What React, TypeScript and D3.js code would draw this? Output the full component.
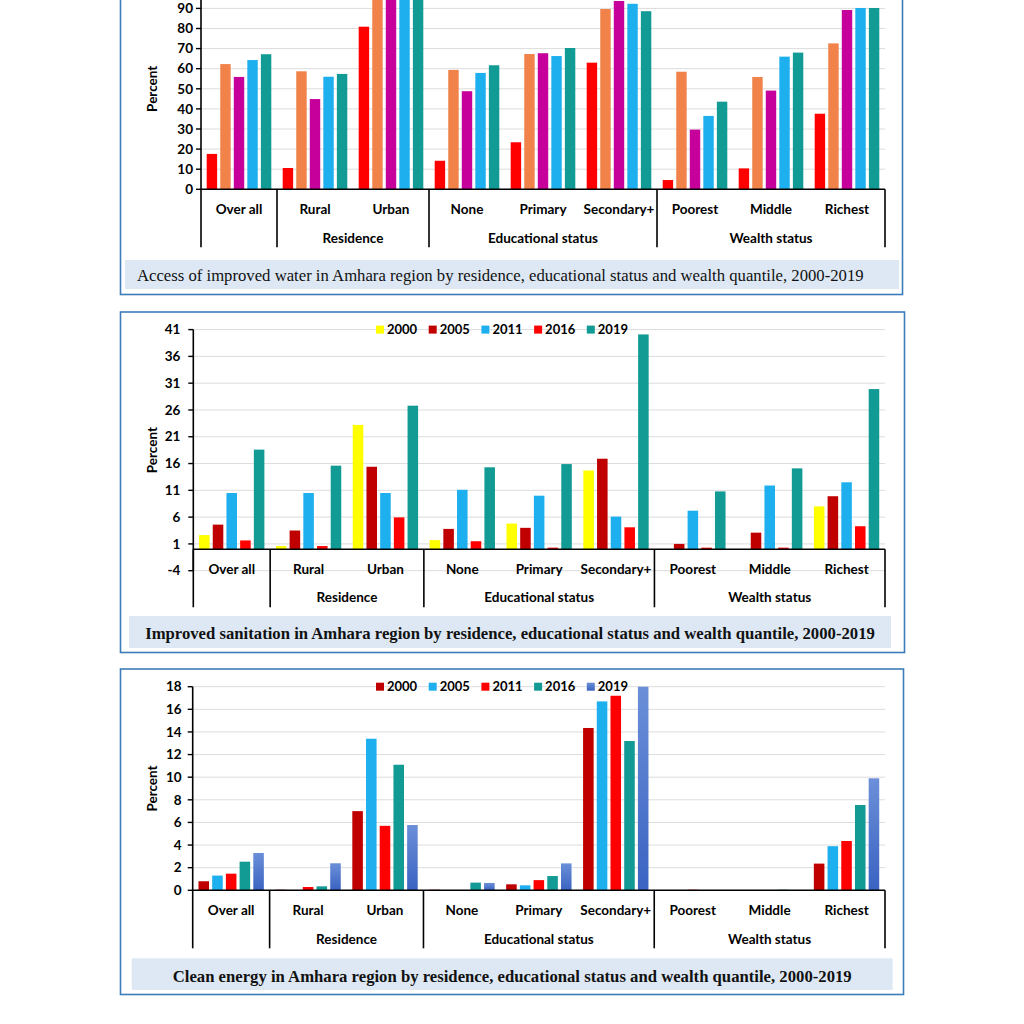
import React from "react";
import * as d3 from "d3";

// ---------- DATA ----------
const categories = ["Over all", "Rural", "Urban", "None", "Primary", "Secondary+", "Poorest", "Middle", "Richest"];
const groupLabels = ["", "Residence", "Educational status", "Wealth status"];
const groupSizes = [1, 2, 3, 3];
const years = ["2000", "2005", "2011", "2016", "2019"];

const water2000 = [17.6, 10.6, 80.9, 14.2, 23.4, 63.0, 4.6, 10.4, 37.6];
const water2005 = [62.3, 58.7, 97.5, 59.4, 67.3, 89.7, 58.5, 55.9, 72.6];
const water2011 = [55.9, 44.9, 98.0, 48.8, 67.7, 93.7, 29.7, 49.1, 89.2];
const water2016 = [64.3, 56.0, 98.5, 57.9, 66.3, 92.3, 36.5, 66.0, 90.2];
const water2019 = [67.2, 57.4, 99.0, 61.7, 70.3, 88.6, 43.6, 68.0, 90.2];
const waterTicks = [0, 10, 20, 30, 40, 50, 60, 70, 80, 90, 100];

const sanitation2000 = [2.65, 0.6, 23.2, 1.7, 4.8, 14.7, 0, 0, 8.0];
const sanitation2005 = [4.6, 3.5, 15.4, 3.8, 4.0, 16.9, 1.0, 3.1, 9.9];
const sanitation2011 = [10.5, 10.5, 10.5, 11.1, 10.0, 6.1, 7.2, 11.9, 12.5];
const sanitation2016 = [1.65, 0.6, 5.95, 1.5, 0.3, 4.1, 0.3, 0.3, 4.3];
const sanitation2019 = [18.6, 15.6, 26.8, 15.3, 15.9, 40.1, 10.8, 15.1, 29.9];
const sanitationTicks = [-4, 1, 6, 11, 16, 21, 26, 31, 36, 41];

const energy2000 = [0.8, 0.05, 7.0, 0.05, 0.53, 14.35, 0, 0, 2.36];
const energy2005 = [1.3, 0, 13.4, 0, 0.44, 16.7, 0, 0, 3.9];
const energy2011 = [1.47, 0.29, 5.7, 0, 0.9, 17.2, 0.05, 0, 4.36];
const energy2016 = [2.53, 0.35, 11.1, 0.68, 1.26, 13.2, 0, 0.05, 7.54];
const energy2019 = [3.3, 2.39, 5.77, 0.65, 2.38, 18.0, 0, 0, 9.9];
const energyTicks = [0, 2, 4, 6, 8, 10, 12, 14, 16, 18];

const waterCaption = "Access of improved water in Amhara region by residence, educational status and wealth quantile, 2000-2019";
const sanitationCaption = "Improved sanitation in Amhara region by residence, educational status and wealth quantile, 2000-2019";
const energyCaption = "Clean energy in Amhara region by residence, educational status and wealth quantile, 2000-2019";

const waterColors = ["#ff0000", "#f0824a", "#c5009b", "#1eb0ee", "#129a94"];
const sanitationColors = ["#ffff00", "#c00000", "#1eb0ee", "#ff0000", "#129a94"];
const energyColors = ["#c00000", "#1eb0ee", "#ff0000", "#129a94", "url(#blueGrad)"];

// ---------- COMPONENT ----------
const SANS = "Lato, 'Open Sans', sans-serif";
const SERIF = "'Liberation Serif', 'Times New Roman', serif";
const FS = 13.5;

type PanelProps = {
  frame: { x0: number; x1: number; y0: number; y1: number };
  axisX: number;
  plotRight: number;
  yRange: [number, number];
  domain: [number, number];
  ticks: number[];
  tickGap: number;
  series: number[][];
  colors: string[];
  showLegend: boolean;
  caption: string;
  captionBox: { x0: number; x1: number; y0: number; y1: number };
  captionBold: boolean;
  captionX?: number;
  captionY: number;
};

function Panel(p: PanelProps) {
  const y = d3.scaleLinear().domain(p.domain).range(p.yRange);
  const x = d3.scaleBand<string>().domain(categories).range([p.axisX, p.plotRight]).paddingInner(0.15).paddingOuter(0.075);
  const inner = d3.scaleBand<string>().domain(years).range([0, x.bandwidth()]).paddingInner(0.23);
  const y0 = y(0);
  const step = x.step();
  const boundaries: number[] = [0];
  groupSizes.forEach((s) => boundaries.push(boundaries[boundaries.length - 1] + s));
  const topY = y(p.domain[1]);
  const legendStart = 376;
  const legendStep = 52.7;
  return (
    <g>
      <rect x={p.frame.x0} y={p.frame.y0} width={p.frame.x1 - p.frame.x0} height={p.frame.y1 - p.frame.y0} fill="#fff" stroke="#3d7cb8" strokeWidth={1.6} />
      {/* gridlines */}
      {p.ticks.map((t) => (
        <line key={"g" + t} x1={p.axisX} x2={p.plotRight} y1={y(t)} y2={y(t)} stroke="#dcdcdc" strokeWidth={1} />
      ))}
      {/* bars */}
      {p.series.map((vals, si) =>
        vals.map((v, ci) => {
          const bx = (x(categories[ci]) as number) + (inner(years[si]) as number);
          const top = y(Math.max(v, 0));
          return <rect key={"b" + si + "-" + ci} x={bx} y={top} width={inner.bandwidth()} height={Math.max(0, y0 - top)} fill={p.colors[si]} />;
        })
      )}
      {/* y axis */}
      <line x1={p.axisX} x2={p.axisX} y1={y(p.domain[0])} y2={topY} stroke="#000" strokeWidth={1.6} />
      {p.ticks.map((t) => (
        <g key={"t" + t}>
          <line x1={p.axisX - 5} x2={p.axisX} y1={y(t)} y2={y(t)} stroke="#000" strokeWidth={1.4} />
          {y(t) - 8 >= 0 ? (
            <text x={p.axisX - p.tickGap} y={y(t)} dy="0.35em" textAnchor="end" fontFamily={SANS} fontWeight={700} fontSize={FS} fill="#000">
              {t}
            </text>
          ) : null}
        </g>
      ))}
      <text transform={`translate(152,${(y(p.domain[0]) + topY) / 2}) rotate(-90)`} textAnchor="middle" dy="0.35em" fontFamily={SANS} fontWeight={700} fontSize={FS}>
        Percent
      </text>
      {/* category axis */}
      <line x1={p.axisX} x2={p.plotRight} y1={y0} y2={y0} stroke="#000" strokeWidth={1.6} />
      {boundaries.map((b) => (
        <line key={"s" + b} x1={p.axisX + b * step} x2={p.axisX + b * step} y1={y0} y2={y0 + 58} stroke="#000" strokeWidth={1.6} />
      ))}
      {categories.map((c) => (
        <text key={"c" + c} x={(x(c) as number) + x.bandwidth() / 2} y={y0 + 20} dy="0.35em" textAnchor="middle" fontFamily={SANS} fontWeight={700} fontSize={FS}>
          {c}
        </text>
      ))}
      {groupLabels.map((g, gi) =>
        g ? (
          <text key={"gl" + gi} x={p.axisX + ((boundaries[gi] + boundaries[gi + 1]) / 2) * step} y={y0 + 48.5} dy="0.35em" textAnchor="middle" fontFamily={SANS} fontWeight={700} fontSize={FS}>
            {g}
          </text>
        ) : null
      )}
      {/* legend */}
      {p.showLegend
        ? years.map((yr, i) => (
            <g key={"l" + yr}>
              <rect x={legendStart + i * legendStep} y={topY - 4} width={8} height={8} fill={p.colors[i]} />
              <text x={legendStart + i * legendStep + 11} y={topY} dy="0.35em" fontFamily={SANS} fontWeight={700} fontSize={13}>
                {yr}
              </text>
            </g>
          ))
        : null}
      {/* caption */}
      <rect x={p.captionBox.x0} y={p.captionBox.y0} width={p.captionBox.x1 - p.captionBox.x0} height={p.captionBox.y1 - p.captionBox.y0} fill="#dde8f4" />
      <text
        x={p.captionX ?? (p.captionBox.x0 + p.captionBox.x1) / 2}
        y={p.captionY}
        dy="0.35em"
        textAnchor={p.captionX ? "start" : "middle"}
        fontFamily={SERIF}
        fontWeight={p.captionBold ? 700 : 400}
        fontSize={16.7}
        fill="#111"
      >
        {p.caption}
      </text>
    </g>
  );
}

export default function App() {
  return (
    <svg width={1024} height={1024} viewBox="0 0 1024 1024" style={{ position: "absolute", left: 0, top: 0, background: "#fff" }}>
      <defs>
        <linearGradient id="blueGrad" x1="0" y1="0" x2="0" y2="1">
          <stop offset="0%" stopColor="#6b8fd8" />
          <stop offset="100%" stopColor="#3a63c2" />
        </linearGradient>
      </defs>
      <rect x={0} y={0} width={1024} height={1024} fill="#fff" />
      <Panel
        frame={{ x0: 120.5, x1: 902.5, y0: -60, y1: 294.5 }}
        axisX={201}
        plotRight={885}
        yRange={[189.3, -11.7]}
        domain={[0, 100]}
        ticks={waterTicks}
        tickGap={8}
        series={[water2000, water2005, water2011, water2016, water2019]}
        colors={waterColors}
        showLegend={false}
        caption={waterCaption}
        captionBox={{ x0: 125, x1: 899, y0: 260, y1: 289 }}
        captionBold={false}
        captionX={137}
        captionY={275}
      />
      <Panel
        frame={{ x0: 120.5, x1: 904.5, y0: 312, y1: 652.5 }}
        axisX={193.3}
        plotRight={885}
        yRange={[570.7, 329.6]}
        domain={[-4, 41]}
        ticks={sanitationTicks}
        tickGap={13}
        series={[sanitation2000, sanitation2005, sanitation2011, sanitation2016, sanitation2019]}
        colors={sanitationColors}
        showLegend={true}
        caption={sanitationCaption}
        captionBox={{ x0: 129, x1: 891, y0: 616, y1: 648 }}
        captionBold={true}
        captionY={633}
      />
      <Panel
        frame={{ x0: 120.5, x1: 903.5, y0: 669, y1: 994.5 }}
        axisX={192.7}
        plotRight={885}
        yRange={[890.3, 686.7]}
        domain={[0, 18]}
        ticks={energyTicks}
        tickGap={11}
        series={[energy2000, energy2005, energy2011, energy2016, energy2019]}
        colors={energyColors}
        showLegend={true}
        caption={energyCaption}
        captionBox={{ x0: 131.7, x1: 892.7, y0: 958.3, y1: 990 }}
        captionBold={true}
        captionY={976}
      />
    </svg>
  );
}
